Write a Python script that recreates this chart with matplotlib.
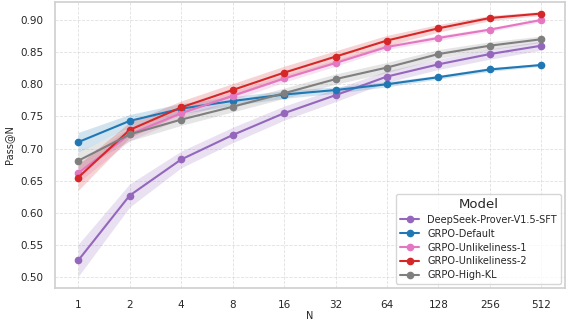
import matplotlib
matplotlib.use("Agg")
import matplotlib.pyplot as plt
import seaborn as sns
import numpy as np

sns.set_theme(style="whitegrid")
plt.rcParams['font.family'] = ['DejaVu Sans']

N = [1, 2, 4, 8, 16, 32, 64, 128, 256, 512]
tick_labels = ["1", "2", "4", "8", "16", "32", "64", "128", "256", "512"]

models = ["DeepSeek-Prover-V1.5-SFT", "GRPO-Default", "GRPO-Unlikeliness-1",
          "GRPO-Unlikeliness-2", "GRPO-High-KL"]
colors = ["#9467bd", "#1f77b4", "#e377c2", "#d62728", "#7f7f7f"]

deepseek = [0.526, 0.627, 0.683, 0.721, 0.755, 0.783, 0.812, 0.831, 0.847, 0.860]
default = [0.710, 0.743, 0.762, 0.774, 0.784, 0.791, 0.800, 0.811, 0.823, 0.830]
unlike1 = [0.662, 0.722, 0.755, 0.782, 0.809, 0.833, 0.858, 0.872, 0.885, 0.900]
unlike2 = [0.655, 0.729, 0.764, 0.791, 0.818, 0.843, 0.868, 0.887, 0.903, 0.910]
highkl = [0.681, 0.722, 0.745, 0.765, 0.786, 0.808, 0.826, 0.847, 0.860, 0.870]

deepseek_ci = [0.025, 0.018, 0.013, 0.012, 0.011, 0.010, 0.009, 0.008, 0.008, 0.007]
default_ci = [0.015, 0.010, 0.008, 0.007, 0.006, 0.005, 0.004, 0.003, 0.003, 0.002]
unlike1_ci = [0.015, 0.010, 0.008, 0.007, 0.006, 0.005, 0.004, 0.004, 0.003, 0.003]
unlike2_ci = [0.020, 0.012, 0.010, 0.010, 0.010, 0.009, 0.008, 0.006, 0.004, 0.003]
highkl_ci = [0.015, 0.010, 0.009, 0.008, 0.008, 0.008, 0.008, 0.007, 0.006, 0.005]

series = [deepseek, default, unlike1, unlike2, highkl]
cis = [deepseek_ci, default_ci, unlike1_ci, unlike2_ci, highkl_ci]

fig = plt.figure(figsize=(5.7, 3.23), dpi=100)
ax = fig.add_axes([0.0965, 0.108, 0.894, 0.886])

for name, vals, ci, c in zip(models, series, cis, colors):
    v = np.array(vals)
    e = np.array(ci)
    ax.fill_between(N, v - e, v + e, color=c, alpha=0.2, linewidth=0)
    ax.plot(N, v, color=c, marker="o", markersize=4.5, linewidth=1.5, label=name)

ax.set_xscale("log", base=2)
ax.set_xticks(N)
ax.set_xticklabels(tick_labels)
ax.minorticks_off()
ax.set_ylim(0.483, 0.928)
ax.set_yticks([0.50, 0.55, 0.60, 0.65, 0.70, 0.75, 0.80, 0.85, 0.90])
ax.set_yticklabels(["0.50", "0.55", "0.60", "0.65", "0.70", "0.75", "0.80", "0.85", "0.90"])
ax.tick_params(axis="both", labelsize=7.5, pad=2.5)
ax.set_xlabel("N", fontsize=7, labelpad=1)
ax.set_ylabel("Pass@N", fontsize=7, labelpad=4)
ax.grid(True, linestyle="--", linewidth=0.6, alpha=0.6)
for s in ax.spines.values():
    s.set_color("#d0d0d0")

leg = ax.legend(title="Model", loc="lower right", fontsize=7, title_fontsize=9.5,
                frameon=True, borderaxespad=0.4, handlelength=2.0, labelspacing=0.4,
                handletextpad=0.8)
leg.get_frame().set_edgecolor("#cccccc")

fig.savefig("out.png", dpi=100)
